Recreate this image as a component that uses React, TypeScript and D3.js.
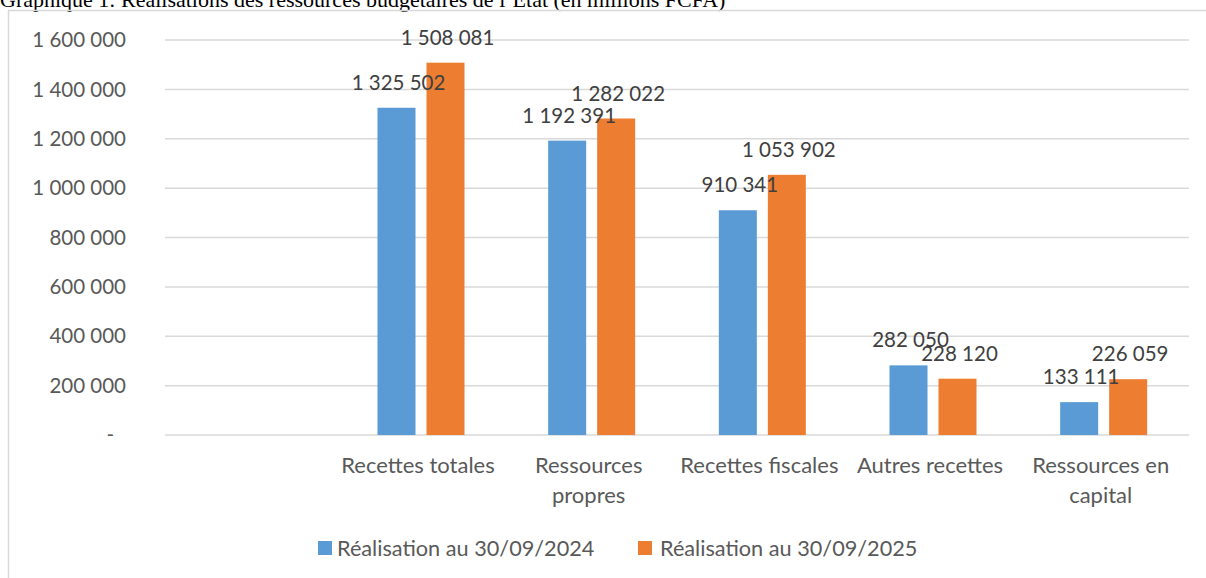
import React from 'react';
import * as d3 from 'd3';

// données du graphique (en millions FCFA)
const categories = ['', 'Recettes totales', 'Ressources\npropres', 'Recettes fiscales', 'Autres recettes', 'Ressources en\ncapital'];
const values2024 = [null, 1325502, 1192391, 910341, 282050, 133111];
const values2025 = [null, 1508081, 1282022, 1053902, 228120, 226059];
const seriesNames = ['Réalisation au 30/09/2024', 'Réalisation au 30/09/2025'];
const tickValues = [0, 200000, 400000, 600000, 800000, 1000000, 1200000, 1400000, 1600000];
const title = 'Graphique 1: Réalisations des ressources budgétaires de l’Etat (en millions FCFA)';

const W = 1206;
const H = 578;
const FONT = 'Lato, "Open Sans", sans-serif';

const locale = d3.formatLocale({ thousands: ' ', grouping: [3], decimal: ',', currency: ['', ''] });
const fmt = locale.format(',d');

const App: React.FC = () => {
  const margin = { top: 40, right: W - 1189, bottom: H - 435, left: 165 };

  const x = d3.scaleBand<string>()
    .domain(categories)
    .range([margin.left, W - margin.right]);

  const y = d3.scaleLinear()
    .domain([0, 1600000])
    .range([H - margin.bottom, margin.top]);

  const barW = 38;
  const gap = 11;
  const colors = ['#5B9BD5', '#ED7D31'];
  const series = [values2024, values2025];

  return (
    <div style={{ position: 'fixed', left: 0, top: 0, width: W, height: H, background: '#fff' }}>
      <svg width={W} height={H} style={{ display: 'block' }}>
        {/* titre (coupé en haut) */}
        <text x={0} y={7} fontFamily='"Liberation Serif", "Times New Roman", serif' fontSize={22} fill="#000">
          {title}
        </text>

        {/* cadre */}
        <rect x={8.5} y={10.5} width={W + 20} height={H + 20} fill="none" stroke="#d9d9d9" strokeWidth={1.5} />

        {/* grille + axe Y */}
        {tickValues.map(t => (
          <g key={t}>
            <line x1={margin.left} x2={W - margin.right} y1={y(t)} y2={y(t)} stroke="#d9d9d9" strokeWidth={1.5} />
            <text
              x={t === 0 ? 114 : 126}
              y={y(t)}
              dy="0.35em"
              textAnchor="end"
              fontFamily={FONT}
              fontSize={20.5}
              fill="#595959"
            >
              {t === 0 ? '-' : fmt(t)}
            </text>
          </g>
        ))}

        {/* barres */}
        {series.map((vals, si) => (
          <g key={si}>
            {categories.map((c, i) => {
              const v = vals[i];
              if (v == null) return null;
              const cx = (x(c) || 0) + x.bandwidth() / 2;
              const bx = si === 0 ? cx - gap / 2 - barW : cx + gap / 2;
              return (
                <rect key={c} x={bx} y={y(v)} width={barW} height={y(0) - y(v)} fill={colors[si]} />
              );
            })}
          </g>
        ))}

        {/* étiquettes de données */}
        {series.map((vals, si) => (
          <g key={'l' + si}>
            {categories.map((c, i) => {
              const v = vals[i];
              if (v == null) return null;
              const cx = (x(c) || 0) + x.bandwidth() / 2;
              const bx = si === 0 ? cx - gap / 2 - barW : cx + gap / 2;
              return (
                <text
                  key={c}
                  x={bx + barW / 2 + 2}
                  y={y(v) - 18}
                  textAnchor="middle"
                  fontFamily={FONT}
                  fontSize={20.5}
                  fill="#404040"
                >
                  {fmt(v)}
                </text>
              );
            })}
          </g>
        ))}

        {/* étiquettes de catégories */}
        {categories.map(c => {
          const cx = (x(c) || 0) + x.bandwidth() / 2;
          return (
            <text key={'c' + c} textAnchor="middle" fontFamily={FONT} fontSize={22} fill="#595959">
              {c.split('\n').map((line, k) => (
                <tspan key={k} x={cx - 3} y={473 + k * 30}>{line}</tspan>
              ))}
            </text>
          );
        })}

        {/* légende */}
        {seriesNames.map((name, si) => {
          const lx = si === 0 ? 318 : 638;
          const tx = si === 0 ? 337 : 660;
          return (
            <g key={name}>
              <rect x={lx} y={541} width={14} height={14} fill={colors[si]} />
              <text x={tx} y={556} fontFamily={FONT} fontSize={21.7} fill="#595959">{name}</text>
            </g>
          );
        })}
      </svg>
    </div>
  );
};

export default App;
